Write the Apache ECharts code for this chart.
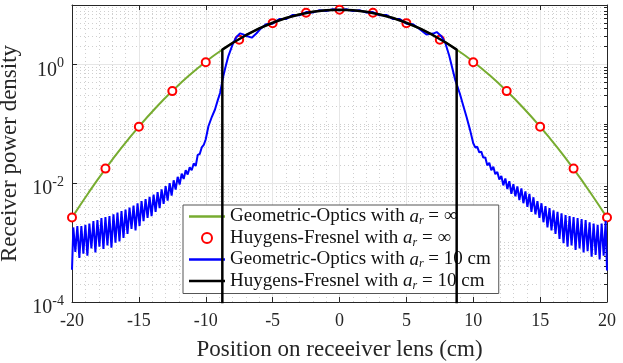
<!DOCTYPE html>
<html>
<head>
<meta charset="utf-8">
<script src="https://cdn.jsdelivr.net/npm/echarts@6/dist/echarts.min.js"></script>
<style>
html,body{margin:0;padding:0;background:#fff;}
#chart{width:623px;height:363px;}
</style>
</head>
<body>
<div id="chart"></div>
<script>
// geometric optics, a_r = inf
var greenX = [-20,-18.75,-17.5,-16.25,-15,-13.75,-12.5,-11.25,-10,-8.75,-7.5,-6.25,-5,-3.75,-2.5,-1.25,0,1.25,2.5,3.75,5,6.25,7.5,8.75,10,11.25,12.5,13.75,15,16.25,17.5,18.75,20];
var greenY = [0.00263,0.00698,0.0174,0.0407,0.0894,0.1845,0.357,0.650,1.11,1.78,2.68,3.79,5.03,6.27,7.33,8.06,8.32,8.06,7.33,6.27,5.03,3.79,2.68,1.78,1.11,0.650,0.357,0.1845,0.0894,0.0407,0.0174,0.00698,0.00263];
// huygens-fresnel, a_r = inf (circles)
var redX = [-20,-17.5,-15,-12.5,-10,-7.5,-5,-2.5,0,2.5,5,7.5,10,12.5,15,17.5,20];
var redY = [0.00265,0.0176,0.089,0.355,1.09,2.6,4.95,7.4,8.3,7.4,4.95,2.6,1.09,0.355,0.089,0.0176,0.00265];
// huygens-fresnel, a_r = 10 cm (drops to zero outside the aperture)
var blackX = [-8.76,-8.76,-8,-7,-6,-5,-4,-3,-2,-1,0,1,2,3,4,5,6,7,8,8.76,8.76];
var blackY = [1e-6,1.77,2.29,3.10,4.03,5.03,6.03,6.94,7.67,8.15,8.32,8.15,7.67,6.94,6.03,5.03,4.03,3.10,2.29,1.77,1e-6];
// geometric optics, a_r = 10 cm
var blueLeft = [[-20,0.00035],[-19.9,0.0018],[-19.75,0.0007],[-19.6,0.0019],[-19.45,0.00055],[-19.3,0.0019],[-19.15,0.00065],[-19,0.002],[-18.85,0.0006],[-18.7,0.0021],[-18.55,0.0008],[-18.4,0.0023],[-18.25,0.00068],[-18.1,0.0024],[-17.95,0.00085],[-17.8,0.0026],[-17.65,0.00078],[-17.5,0.0027],[-17.35,0.0009],[-17.2,0.0028],[-17.05,0.00082],[-16.9,0.003],[-16.75,0.001],[-16.6,0.0032],[-16.45,0.00105],[-16.3,0.0034],[-16.15,0.0012],[-16,0.0036],[-15.85,0.0014],[-15.7,0.0039],[-15.55,0.0017],[-15.4,0.0042],[-15.25,0.0016],[-15.1,0.0046],[-14.95,0.0019],[-14.8,0.005],[-14.65,0.0023],[-14.5,0.0054],[-14.35,0.0026],[-14.2,0.0059],[-14.05,0.0028],[-13.9,0.0064],[-13.75,0.0033],[-13.6,0.0071],[-13.45,0.0038],[-13.3,0.0079],[-13.15,0.0045],[-13,0.0089],[-12.85,0.0051],[-12.7,0.01],[-12.55,0.0062],[-12.4,0.0112],[-12.25,0.0078],[-12.1,0.0128],[-11.95,0.0095],[-11.8,0.0145],[-11.65,0.0118],[-11.5,0.0165],[-11.35,0.014],[-11.2,0.0185],[-11.05,0.0165],[-10.9,0.0215],[-10.75,0.0195],[-10.6,0.03],[-10.45,0.031],[-10.3,0.04],[-10.15,0.044],[-10,0.055],[-9.8,0.091],[-9.55,0.13],[-9.31,0.174],[-9.1,0.25],[-8.93,0.33],[-8.69,0.63],[-8.5,0.95],[-8.31,1.38],[-7.94,2.32],[-7.7,2.9],[-7.44,3.33],[-7.2,3.2],[-6.94,3.0],[-6.56,2.82],[-6.2,3.35],[-5.94,3.9]];
var blueCenter = [[-5.5,4.75],[-5,4.85],[-4.5,5.8],[-4,5.8],[-3.5,6.8],[-3,6.7],[-2.5,7.6],[-2,7.45],[-1.5,8.2],[-1,7.95],[-0.5,8.45],[0,8.15],[0.5,8.45],[1,7.95],[1.5,8.2],[2,7.45],[2.5,7.6],[3,6.7],[3.5,6.8],[4,5.8],[4.5,5.8],[5,4.85],[5.5,4.75]];
var blueRight = [[6,3.9],[6.5,3.2],[7,3.3],[7.27,3.5],[7.6,3.0],[7.9,2.34],[8.2,1.41],[8.64,0.56],[9,0.32],[9.26,0.2],[9.5,0.13],[9.76,0.079],[10,0.047],[10.15,0.04],[10.3,0.041],[10.45,0.033],[10.6,0.034],[10.75,0.027],[10.9,0.027],[11.05,0.02],[11.2,0.022],[11.35,0.0165],[11.5,0.019],[11.65,0.0142],[11.8,0.0155],[11.95,0.0115],[12.1,0.0132],[12.25,0.0092],[12.4,0.012],[12.55,0.008],[12.7,0.0108],[12.85,0.0066],[13,0.0096],[13.15,0.006],[13.3,0.0088],[13.45,0.0052],[13.6,0.0082],[13.75,0.0046],[13.9,0.0073],[14.05,0.004],[14.2,0.0066],[14.35,0.0033],[14.5,0.0058],[14.65,0.003],[14.8,0.005],[14.95,0.0026],[15.1,0.0046],[15.25,0.0022],[15.4,0.0041],[15.55,0.0018],[15.7,0.0038],[15.85,0.0016],[16,0.0035],[16.15,0.0014],[16.3,0.0033],[16.45,0.00115],[16.6,0.0031],[16.75,0.00098],[16.9,0.0029],[17.05,0.00085],[17.2,0.0028],[17.35,0.0009],[17.5,0.0027],[17.65,0.00075],[17.8,0.0026],[17.95,0.0008],[18.1,0.0025],[18.25,0.00068],[18.4,0.0024],[18.55,0.00072],[18.7,0.0022],[18.85,0.00058],[19,0.0021],[19.15,0.00062],[19.3,0.002],[19.45,0.00052],[19.6,0.0021],[19.75,0.0006],[19.9,0.0023],[20,0.00034]];

var yMajor = [1e-4,1e-2,1];
var yMinor = [];
for (var d = -4; d < 1; d++) {
	for (var m = 1; m <= 9; m++) {
		if (m == 1 && d % 2 == 0) continue;
		yMinor.push(m * Math.pow(10, d));
	}
}

var names = ['Geometric-Optics with a_r = ∞','Huygens-Fresnel with a_r = ∞','Geometric-Optics with a_r = 10 cm','Huygens-Fresnel with a_r = 10 cm'];
var legendText = {};
legendText[names[0]] = '{t|Geometric-Optics with }{i|a}{s|r}{t| = ∞}';
legendText[names[1]] = '{t|Huygens-Fresnel with }{i|a}{s|r}{t| = ∞}';
legendText[names[2]] = '{t|Geometric-Optics with }{i|a}{s|r}{t| = 10 cm}';
legendText[names[3]] = '{t|Huygens-Fresnel with }{i|a}{s|r}{t| = 10 cm}';
var lineIcon = 'path://M0,0L36,0L36,2.5L0,2.5Z';

function zip(xs, ys){
	var out = [];
	for (var i = 0; i < xs.length; i++) out.push([xs[i], ys[i]]);
	return out;
}

var font = 'Liberation Serif';
var axisColor = '#262626';
var myChart = echarts.init(document.getElementById('chart'));
var option = {
	animation: false,
	grid: {left: 72, right: 16, top: 5, bottom: 61, outerBoundsMode: 'none', containLabel: false},
	legend: {
		orient: 'vertical',
		left: 183, top: 205,
		backgroundColor: '#fff',
		borderColor: '#555',
		borderWidth: 1,
		borderRadius: 0,
		padding: [2, 8, 2, 6],
		itemWidth: 36, itemHeight: 10, itemGap: 1.5,
		symbolKeepAspect: true,
		data: [
			{name: names[0], icon: lineIcon},
			{name: names[1], icon: 'circle', itemStyle: {color: '#fff', borderColor: '#ff0000', borderWidth: 2}},
			{name: names[2], icon: lineIcon},
			{name: names[3], icon: lineIcon}
		],
		formatter: function(n){ return legendText[n]; },
		textStyle: {
			fontFamily: font, color: '#111',
			rich: {
				t: {fontFamily: font, fontSize: 19, lineHeight: 21, color: '#111'},
				i: {fontFamily: font, fontSize: 19, lineHeight: 21, fontStyle: 'italic', color: '#111'},
				s: {fontFamily: font, fontSize: 12, fontStyle: 'italic', color: '#111', padding: [9, 0, 0, 0]}
			}
		}
	},
	xAxis: [{
		type: 'value', min: -20, max: 20, interval: 5, position: 'bottom',
		name: 'Position on receeiver lens (cm)', nameLocation: 'middle', nameGap: 36,
		nameTextStyle: {fontFamily: font, fontSize: 23, color: axisColor},
		axisLine: {onZero: false, lineStyle: {color: axisColor, width: 1}},
		axisTick: {inside: true, length: 5, lineStyle: {color: axisColor}},
		minorTick: {show: false, splitNumber: 5},
		axisLabel: {fontFamily: font, fontSize: 18, color: axisColor, margin: 10},
		splitLine: {show: true, lineStyle: {color: '#e6e6e6', width: 1}},
		minorSplitLine: {show: true, lineStyle: {color: '#cfcfcf', width: 1, type: [1, 3]}}
	}, {
		type: 'value', min: -20, max: 20, interval: 5, position: 'top',
		axisLine: {onZero: false, lineStyle: {color: axisColor, width: 1}},
		axisTick: {inside: true, length: 5, lineStyle: {color: axisColor}},
		axisLabel: {show: false},
		splitLine: {show: false}
	}],
	yAxis: [{
		type: 'log', logBase: 10, min: 1e-4, max: 10, position: 'left',
		name: 'Receiver power density', nameLocation: 'middle', nameGap: 46,
		nameTextStyle: {fontFamily: font, fontSize: 23, color: axisColor},
		axisLine: {show: true, onZero: false, lineStyle: {color: axisColor, width: 1}},
		axisTick: {inside: true, length: 5, customValues: yMajor, lineStyle: {color: axisColor}},
		axisLabel: {
			customValues: yMajor,
			margin: 8,
			formatter: function(v){
				var e = Math.round(Math.log10(v));
				return '{b|10}{e|' + e + '}';
			},
			rich: {
				b: {fontFamily: font, fontSize: 20, color: axisColor, padding: [12, 0, 0, 0]},
				e: {fontFamily: font, fontSize: 14, color: axisColor, padding: [0, 0, 2, 0]}
			}
		},
		splitLine: {show: true, lineStyle: {color: '#e6e6e6', width: 1}}
	}, {
		type: 'log', logBase: 10, min: 1e-4, max: 10, position: 'right',
		axisLine: {show: true, onZero: false, lineStyle: {color: axisColor, width: 1}},
		axisTick: {inside: true, length: 3, customValues: yMinor, lineStyle: {color: axisColor}},
		axisLabel: {show: false},
		splitLine: {show: true, lineStyle: {color: '#cfcfcf', width: 1, type: [1, 3]}}
	}],
	series: [{
		name: names[0], type: 'line', smooth: true, symbol: 'none',
		lineStyle: {color: '#77ac30', width: 2}, itemStyle: {color: '#77ac30'},
		data: zip(greenX, greenY), z: 2
	}, {
		name: names[1], type: 'scatter', symbol: 'circle', symbolSize: 8, clip: false,
		itemStyle: {color: '#fff', borderColor: '#ff0000', borderWidth: 2, opacity: 1},
		data: zip(redX, redY), z: 3
	}, {
		name: names[2], type: 'line', symbol: 'none',
		lineStyle: {color: '#0000ff', width: 2}, itemStyle: {color: '#0000ff'},
		data: blueLeft.concat(blueCenter, blueRight), z: 4
	}, {
		name: names[3], type: 'line', symbol: 'none',
		lineStyle: {color: '#000', width: 2.5}, itemStyle: {color: '#000'},
		data: zip(blackX, blackY), z: 5
	}]
};
myChart.setOption(option);
</script>
</body>
</html>
